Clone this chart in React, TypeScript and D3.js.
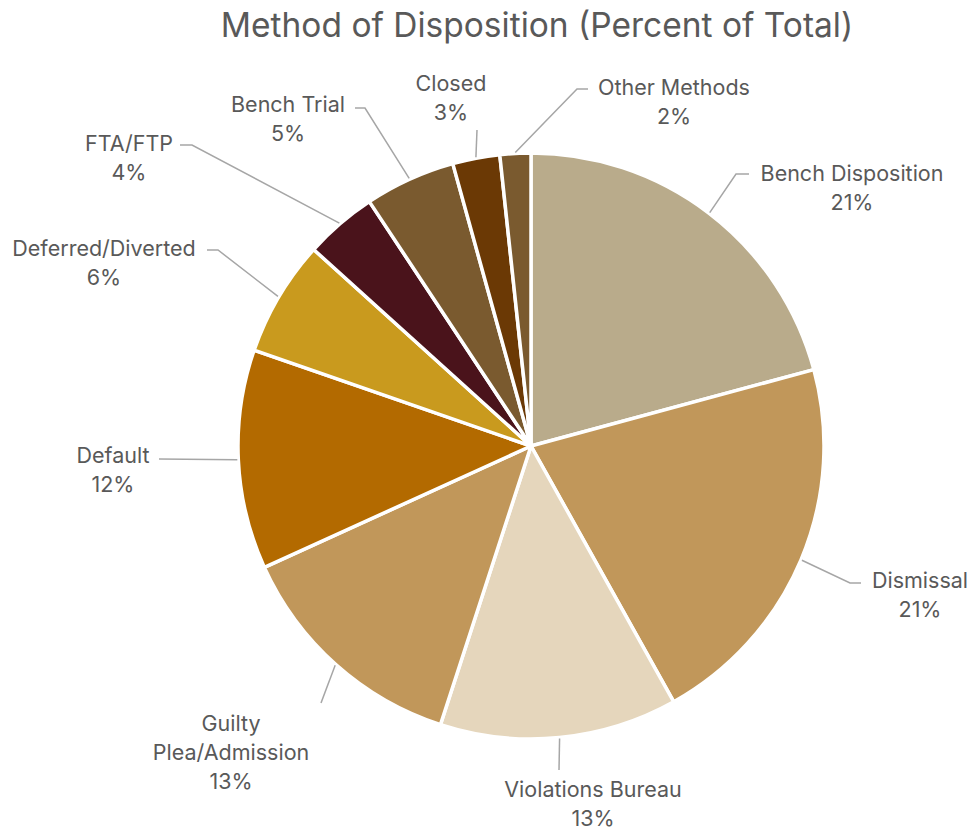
import React from "react";
import * as d3 from "d3";

const categories = [
  "Bench Disposition",
  "Dismissal",
  "Violations Bureau",
  "Guilty Plea/Admission",
  "Default",
  "Deferred/Diverted",
  "FTA/FTP",
  "Bench Trial",
  "Closed",
  "Other Methods",
];
const percents = [20.8, 21.1, 13.1, 13.2, 12.1, 6.4, 4.0, 5.0, 2.6, 1.7];
const labelLines = [
  ["Bench Disposition"],
  ["Dismissal"],
  ["Violations Bureau"],
  ["Guilty", "Plea/Admission"],
  ["Default"],
  ["Deferred/Diverted"],
  ["FTA/FTP"],
  ["Bench Trial"],
  ["Closed"],
  ["Other Methods"],
];
const colors = [
  "#B9AB8B",
  "#C1975A",
  "#E5D6BC",
  "#C1975A",
  "#B36A00",
  "#C99A1E",
  "#4A131B",
  "#7A5A2F",
  "#6B3905",
  "#7A5A2F",
];

// label placement (layout only): text center x, first baseline y, leader points after slice edge
const labelLayout: { x: number; y: number; leader: [number, number][] }[] = [
  { x: 852, y: 181, leader: [[736, 174], [749, 174]] },
  { x: 920, y: 588, leader: [[850, 583], [861, 583]] },
  { x: 593, y: 797, leader: [[559, 770]] },
  { x: 231, y: 731, leader: [[321, 703]] },
  { x: 113, y: 463, leader: [[159, 459]] },
  { x: 104, y: 256, leader: [[218, 250], [207, 250]] },
  { x: 129, y: 151, leader: [[192, 145], [180, 145]] },
  { x: 288, y: 112, leader: [[365, 108], [355, 108]] },
  { x: 451, y: 91, leader: [[477, 130]] },
  { x: 674, y: 95, leader: [[577, 89], [588, 89]] },
];

const W = 977;
const H = 833;
const CX = 531;
const CY = 446;
const R = 293;
const FONT = "Inter, 'Open Sans', sans-serif";
const TEXT = "#595959";

export default function App() {
  const data = categories.map((c, i) => ({ c, v: percents[i], i }));
  const pie = d3
    .pie<{ c: string; v: number; i: number }>()
    .value((d) => d.v)
    .sort(null)
    .startAngle(0)
    .endAngle(2 * Math.PI);
  const arcs = pie(data);
  const arc = d3
    .arc<d3.PieArcDatum<{ c: string; v: number; i: number }>>()
    .innerRadius(0)
    .outerRadius(R);
  const total = d3.sum(percents);
  const fmt = (v: number) => `${Math.round((v / total) * 100)}%`;

  return (
    <svg
      width={W}
      height={H}
      style={{ position: "absolute", left: 0, top: 0, background: "#fff" }}
    >
      <text
        x={537}
        y={37}
        textAnchor="middle"
        fontFamily={FONT}
        fontSize={33.5}
        fill={TEXT}
      >
        Method of Disposition (Percent of Total)
      </text>
      <g transform={`translate(${CX},${CY})`}>
        {arcs.map((a) => (
          <path
            key={a.data.c}
            d={arc(a) || ""}
            fill={colors[a.data.i]}
            stroke="#fff"
            strokeWidth={3.5}
            strokeLinejoin="round"
          />
        ))}
      </g>
      {arcs.map((a) => {
        const mid = (a.startAngle + a.endAngle) / 2;
        const ex = CX + Math.sin(mid) * (R + 1);
        const ey = CY - Math.cos(mid) * (R + 1);
        const lay = labelLayout[a.data.i];
        const pts: [number, number][] = [[ex, ey], ...lay.leader];
        const lines = [...labelLines[a.data.i], fmt(a.data.v)];
        return (
          <g key={"l" + a.data.c}>
            <path
              d={d3.line()(pts) || ""}
              fill="none"
              stroke="#A6A6A6"
              strokeWidth={1.5}
            />
            <text
              textAnchor="middle"
              fontFamily={FONT}
              fontSize={21.5}
              fill={TEXT}
            >
              {lines.map((t, k) => (
                <tspan key={k} x={lay.x} y={lay.y + k * 29}>
                  {t}
                </tspan>
              ))}
            </text>
          </g>
        );
      })}
    </svg>
  );
}
